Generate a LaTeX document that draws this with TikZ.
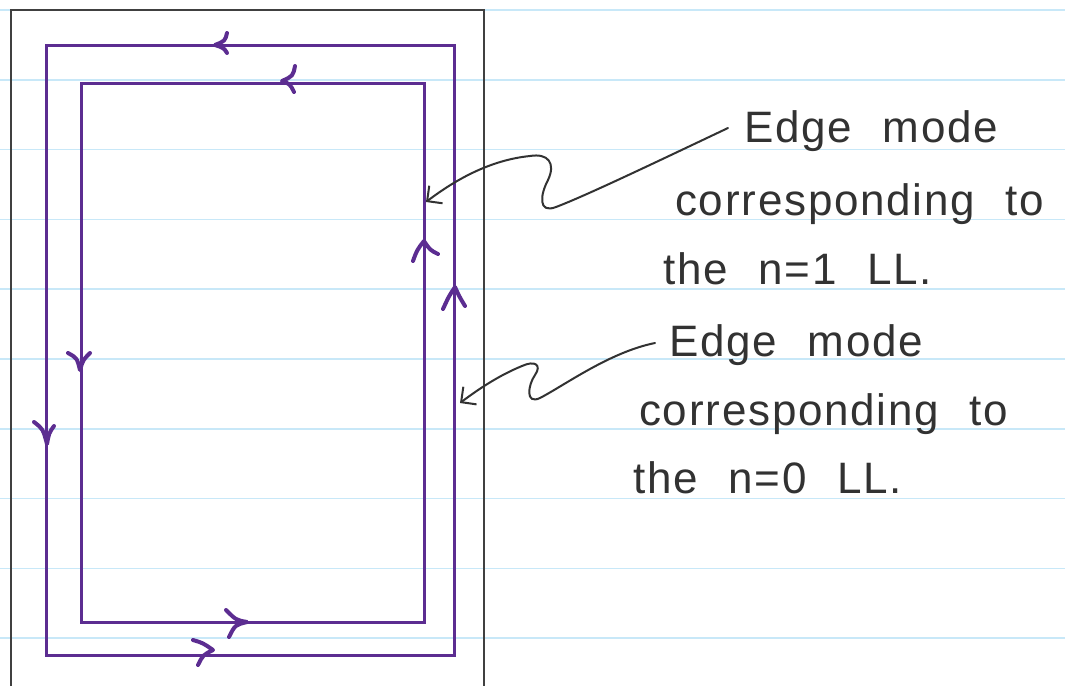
\documentclass[tikz,border=0pt]{standalone}
\usepackage{fontspec}
\setmainfont{Liberation Sans}
\newfontfamily\hand[LetterSpace=4,WordSpace=2.2]{Liberation Sans}
\usetikzlibrary{arrows.meta}
\definecolor{rulecol}{RGB}{200,232,248}
\definecolor{lav}{RGB}{92,45,145}
\definecolor{ink}{RGB}{50,50,50}
\definecolor{framecol}{RGB}{64,64,64}
\begin{document}
\begin{tikzpicture}[x=1pt,y=-1pt,
 ruled/.style={rulecol,line width=1.5pt},
 frm/.style={framecol,line width=2pt},
 loopline/.style={lav,line width=3pt},
 chev/.style={lav,line width=4pt,line cap=round,line join=round},
 txt/.style={ink,anchor=base west,inner sep=0pt,font=\hand\fontsize{44}{50}\selectfont},
 ptr/.style={ink,line width=2pt,line cap=round,-{Straight Barb[length=11pt,width=22pt,line width=2pt]}}]
\useasboundingbox (0,0) rectangle (1065,686);
\fill[white] (0,0) rectangle (1065,686);
\foreach \k in {0,...,9} \draw[ruled] (0,{10+69.8*\k}) -- (1065,{10+69.8*\k});
% frame
\draw[frm] (11,686) -- (11,10) -- (484,10) -- (484,686);
% loops
\coordinate (oA) at (46,45); \coordinate (oB) at (454,655);
\coordinate (iA) at (81,83); \coordinate (iB) at (424,622);
\draw[loopline] (oA) rectangle (oB);
\draw[loopline] (iA) rectangle (iB);
% chevrons outer
\draw[chev] (227,33) .. controls (225,41) .. (215,45) .. controls (224,48) .. (227,53);
\draw[chev] (34,422) .. controls (43,429) .. (47,444) .. controls (49,433) .. (54,426);
\draw[chev] (193,640) .. controls (203,643) .. (213,650) .. controls (203,655) .. (198,665);
\draw[chev] (443,309) .. controls (449,296) .. (455,287) .. controls (459,296) .. (465,306);
% chevrons inner
\draw[chev] (295,66) .. controls (293,76) .. (282,81) .. controls (290,84) .. (294,92);
\draw[chev] (68,353) .. controls (77,358) .. (80,370) .. controls (83,360) .. (90,353);
\draw[chev] (226,610) .. controls (236,620) .. (247,622) .. controls (235,625) .. (229,637);
\draw[chev] (413,261) .. controls (417,250) .. (424,241) .. controls (430,250) .. (438,254);
% text block 1
\node[txt] (a1) at (744,142) {Edge mode};
\node[txt] (a2) at (675,215) {corresponding to};
\node[txt] (a3) at (663,284) {the n=1 LL.};
% text block 2
\node[txt] (b1) at (669,356) {Edge mode};
\node[txt] (b2) at (639,425) {corresponding to};
\node[txt] (b3) at (633,493) {the n=0 LL.};
% pointers
\coordinate (p1) at (426,202);
\coordinate (p2) at (460,403);
\draw[ptr] ([xshift=-16pt,yshift=14pt]a1.base west) .. controls (650,165) and (585,196) .. (556,207)
  .. controls (538,214) and (540,195) .. (548,180) .. controls (556,163) and (548,153) .. (530,156)
  .. controls (490,160) and (455,180) .. (p1);
\draw[ptr] ([xshift=-14pt,yshift=13pt]b1.base west) .. controls (610,352) and (565,385) .. (540,398)
  .. controls (525,405) and (528,385) .. (535,375) .. controls (542,365) and (535,360) .. (522,366)
  .. controls (500,375) and (480,388) .. (p2);
\end{tikzpicture}
\end{document}
